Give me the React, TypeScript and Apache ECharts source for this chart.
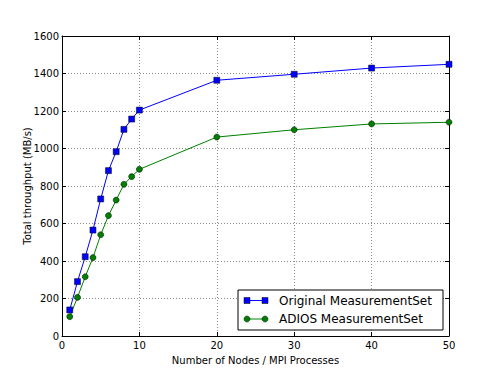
import React, { useEffect, useRef } from "react";
import * as echarts from "echarts";

const nodes = [1, 2, 3, 4, 5, 6, 7, 8, 9, 10, 20, 30, 40, 50];
const originalMS = [139, 290, 423, 565, 731, 882, 983, 1102, 1157, 1205, 1364, 1396, 1429, 1449];
const adiosMS = [103, 206, 316, 418, 540, 642, 725, 809, 850, 889, 1061, 1100, 1131, 1140];
const seriesNames = ["Original MeasurementSet", "ADIOS MeasurementSet"];

const FONT = "DejaVu Sans";

export default function App() {
  const ref = useRef<HTMLDivElement>(null);
  useEffect(() => {
    if (!ref.current) return;
    const chart = echarts.init(ref.current, undefined, { renderer: "svg" });
    const grid = { left: 62, right: 49, top: 36, bottom: 38 };
    const gridStyle = { show: true, lineStyle: { color: "#8c8c8c", type: [1, 2] as any, width: 1 } };
    const tick = { show: true, inside: true, length: 4, lineStyle: { color: "#000" } };
    const lx = 238, ly = 290, lw = 205, lh = 40;
    const rows = [
      { y: 300.5, color: "#0000ff", shape: "square" },
      { y: 319, color: "#008000", shape: "circle" },
    ];
    const legendEls: any[] = [
      { type: "rect", shape: { x: lx, y: ly, width: lw, height: lh }, style: { fill: "#fff", stroke: "#000", lineWidth: 1 }, z: 100 },
    ];
    rows.forEach((r, i) => {
      legendEls.push({ type: "line", shape: { x1: 247, y1: r.y, x2: 265, y2: r.y }, style: { stroke: r.color, lineWidth: 1 }, z: 101 });
      [247, 265].forEach((cx) => {
        if (r.shape === "square") {
          legendEls.push({ type: "rect", shape: { x: cx - 3, y: r.y - 3, width: 6, height: 6 }, style: { fill: r.color, stroke: "#000", lineWidth: 0.5 }, z: 102 });
        } else {
          legendEls.push({ type: "circle", shape: { cx, cy: r.y, r: 3 }, style: { fill: r.color, stroke: "#000", lineWidth: 0.5 }, z: 102 });
        }
      });
      legendEls.push({
        type: "text", x: 279, y: r.y, z: 102,
        style: { text: seriesNames[i], fill: "#000", font: `12px "${FONT}"`, verticalAlign: "middle" },
      });
    });

    const plain = (v: number) => String(v);

    chart.setOption({
      animation: false,
      backgroundColor: "#fff",
      grid,
      xAxis: [
        {
          type: "value", min: 0, max: 50, interval: 10,
          name: "Number of Nodes / MPI Processes", nameLocation: "middle", nameGap: 19,
          nameMoveOverlap: false,
          nameTextStyle: { fontFamily: FONT, fontSize: 10, color: "#000" },
          axisLine: { show: true, onZero: false, lineStyle: { color: "#000", width: 1 } },
          axisTick: tick,
          axisLabel: { fontFamily: FONT, fontSize: 10, color: "#000", margin: 4, formatter: plain },
          splitLine: gridStyle,
        },
        {
          type: "value", min: 0, max: 50, interval: 10, position: "top",
          axisLine: { show: true, onZero: false, lineStyle: { color: "#000", width: 1 } },
          axisTick: tick, axisLabel: { show: false }, splitLine: { show: false },
        },
      ],
      yAxis: [
        {
          type: "value", min: 0, max: 1600, interval: 200,
          name: "Total throughput (MB/s)", nameLocation: "middle", nameGap: 30,
          nameMoveOverlap: false,
          nameTextStyle: { fontFamily: FONT, fontSize: 10, color: "#000" },
          axisLine: { show: true, onZero: false, lineStyle: { color: "#000", width: 1 } },
          axisTick: tick,
          axisLabel: { fontFamily: FONT, fontSize: 10, color: "#000", margin: 3, formatter: plain },
          splitLine: gridStyle,
        },
        {
          type: "value", min: 0, max: 1600, interval: 200, position: "right",
          axisLine: { show: true, onZero: false, lineStyle: { color: "#000", width: 1 } },
          axisTick: tick, axisLabel: { show: false }, splitLine: { show: false },
        },
      ],
      series: [
        {
          name: seriesNames[0], type: "line",
          data: nodes.map((n, i) => [n, originalMS[i]]),
          symbol: "rect", symbolSize: 6,
          lineStyle: { color: "#0000ff", width: 1 },
          itemStyle: { color: "#0000ff", borderColor: "#000", borderWidth: 0.5 },
          z: 3,
        },
        {
          name: seriesNames[1], type: "line",
          data: nodes.map((n, i) => [n, adiosMS[i]]),
          symbol: "circle", symbolSize: 6,
          lineStyle: { color: "#008000", width: 1 },
          itemStyle: { color: "#008000", borderColor: "#000", borderWidth: 0.5 },
          z: 3,
        },
      ],
      graphic: legendEls,
    });
    return () => chart.dispose();
  }, []);
  return <div ref={ref} style={{ position: "absolute", left: 0, top: 0, width: 498, height: 374 }} />;
}
